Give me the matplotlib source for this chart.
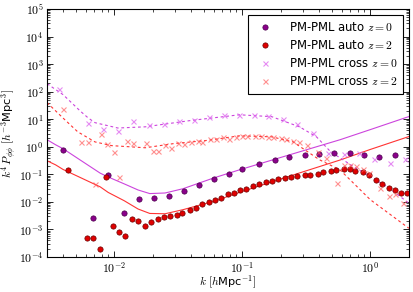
import matplotlib
matplotlib.use("Agg")
import matplotlib.pyplot as plt
from matplotlib.ticker import FuncFormatter, LogLocator
import numpy as np

plt.rcParams['mathtext.fontset'] = 'cm'
plt.rcParams['font.family'] = ['DejaVu Sans']

# auto spectra (dots)
k_auto0 = [0.0040, 0.0069, 0.0090, 0.012, 0.0157, 0.0205, 0.027, 0.035, 0.046, 0.060,
           0.079, 0.10, 0.135, 0.18, 0.23, 0.31, 0.40, 0.52, 0.69, 0.89, 1.17, 1.55]
p_auto0 = [0.78, 0.0026, 0.095, 0.004, 0.0126, 0.014, 0.017, 0.025, 0.042, 0.069,
           0.10, 0.16, 0.24, 0.34, 0.43, 0.51, 0.56, 0.60, 0.60, 0.51, 0.43, 0.51]

k_auto2 = [0.0044, 0.0062, 0.0069, 0.0078, 0.0087, 0.0098, 0.011, 0.0122, 0.0138, 0.0154,
           0.0174, 0.0194, 0.022, 0.0245, 0.0273, 0.031, 0.034, 0.039, 0.0435, 0.049,
           0.055, 0.061, 0.068, 0.077, 0.086, 0.097, 0.108, 0.122, 0.136, 0.154,
           0.172, 0.19, 0.217, 0.24, 0.27, 0.31, 0.34, 0.39, 0.43, 0.49,
           0.54, 0.62, 0.69, 0.76, 0.88, 0.98, 1.1, 1.23, 1.4, 1.55, 1.75, 1.95]
p_auto2 = [0.145, 0.0005, 0.0005, 0.0002, 0.08, 0.0013, 0.0008, 0.0006, 0.0024, 0.002,
           0.0013, 0.0019, 0.0024, 0.0028, 0.003, 0.0034, 0.0039, 0.0051, 0.006, 0.0085,
           0.010, 0.012, 0.014, 0.019, 0.021, 0.027, 0.030, 0.038, 0.045, 0.054,
           0.058, 0.069, 0.074, 0.080, 0.088, 0.096, 0.096, 0.10, 0.12, 0.13,
           0.145, 0.15, 0.16, 0.13, 0.12, 0.096, 0.063, 0.045, 0.032, 0.027, 0.021, 0.021]

# cross spectra (x markers)
k_cross0 = [0.0037, 0.0063, 0.0082, 0.0107, 0.014, 0.0187, 0.0245, 0.032, 0.042, 0.055,
            0.072, 0.094, 0.123, 0.16, 0.21, 0.27, 0.36, 0.47, 0.62, 0.81, 1.07, 1.43, 1.87]
p_cross0 = [130, 7.4, 4.5, 3.8, 8.9, 6.3, 6.9, 8.9, 9.6, 12.0,
            14.5, 14.5, 14.0, 13.5, 10.5, 7.0, 3.2, 0.6, 0.55, 0.6, 0.36, 0.26, 0.36]

k_cross2 = [0.0040, 0.0055, 0.0063, 0.0071, 0.0079, 0.0088, 0.0100, 0.011, 0.0126, 0.014,
            0.0178, 0.020, 0.022, 0.025, 0.0278, 0.0315, 0.035, 0.0397, 0.045, 0.049,
            0.056, 0.062, 0.071, 0.079, 0.089, 0.10, 0.11, 0.125, 0.14, 0.16,
            0.175, 0.20, 0.22, 0.25, 0.28, 0.32, 0.39, 0.45, 0.55, 0.62,
            0.69, 0.78, 0.88, 0.98, 1.2, 1.4, 1.55, 1.8]
p_cross2 = [24, 1.5, 1.5, 0.045, 3.0, 1.3, 0.66, 0.08, 1.65, 1.4,
            1.4, 0.71, 0.71, 1.18, 0.92, 1.4, 1.3, 1.5, 1.65, 1.5,
            1.95, 1.95, 2.3, 1.95, 2.3, 2.5, 2.5, 2.5, 2.5, 2.3,
            2.3, 2.1, 1.95, 1.65, 1.5, 1.2, 0.65, 0.4, 0.049, 0.22,
            0.22, 0.2, 0.15, 0.11, 0.032, 0.016, 0.019, 0.009]

# theory curves
k_th_auto = [0.003, 0.0035, 0.004, 0.0055, 0.0078, 0.009, 0.012, 0.0154, 0.019, 0.025,
             0.0345, 0.06, 0.095, 0.2, 0.58, 1.0, 2.0]
th_auto0 = [1.8, 1.18, 0.85, 0.32, 0.11, 0.08, 0.045, 0.027, 0.02, 0.021,
            0.03, 0.074, 0.145, 0.41, 1.8, 4.2, 12.5]
th_auto2 = [0.31, 0.22, 0.15, 0.075, 0.035, 0.022, 0.011, 0.0055, 0.0038, 0.0037,
            0.0052, 0.0105, 0.022, 0.068, 0.33, 0.8, 2.35]

k_th_cross0 = [0.003, 0.004, 0.0055, 0.0063, 0.0071, 0.0107, 0.0175, 0.039, 0.095, 0.17,
               0.28, 0.38, 0.49, 0.74, 1.36, 2.0]
th_cross0 = [195, 78, 19, 11, 7.5, 4.8, 5.3, 8.9, 14.5, 12.4,
             5.3, 2.3, 0.66, 0.19, 0.035, 0.009]
k_th_cross2 = [0.003, 0.004, 0.0052, 0.0071, 0.0096, 0.0175, 0.029, 0.053, 0.095, 0.17,
               0.25, 0.4, 0.58, 1.0, 2.0]
th_cross2 = [40, 11, 3.5, 1.5, 1.1, 0.92, 1.3, 1.7, 2.5, 2.3,
             1.5, 0.34, 0.145, 0.012, 0.0011]

c_auto0 = '#8b008b'
c_auto2 = '#e00000'
c_th0 = '#cc44dd'
c_th2 = '#ff3333'

fig = plt.figure(figsize=(4.13, 2.92), dpi=100)
ax = fig.add_axes([0.114, 0.12, 0.876, 0.849])

ax.plot(k_th_auto, th_auto0, '-', color=c_th0, lw=0.8)
ax.plot(k_th_auto, th_auto2, '-', color=c_th2, lw=0.8)
ax.plot(k_th_cross0, th_cross0, '--', color=c_th0, lw=0.8, dashes=(2.5, 2.5))
ax.plot(k_th_cross2, th_cross2, '--', color=c_th2, lw=0.8, dashes=(2.5, 2.5))

ax.plot(k_auto0, p_auto0, 'o', color=c_auto0, mec='#4a004a', mew=0.5, ms=3.8,
        label=r'PM-PML auto $z=0$')
ax.plot(k_auto2, p_auto2, 'o', color=c_auto2, mec='#6a0000', mew=0.5, ms=3.8,
        label=r'PM-PML auto $z=2$')
ax.plot(k_cross0, p_cross0, 'x', color='#dd66ee', alpha=0.75, mew=0.8, ms=3.6,
        label=r'PM-PML cross $z=0$')
ax.plot(k_cross2, p_cross2, 'x', color='#ff5555', alpha=0.65, mew=0.8, ms=3.6,
        label=r'PM-PML cross $z=2$')

ax.set_xscale('log')
ax.set_yscale('log')
ax.set_xlim(0.003, 2.0)
ax.set_ylim(1e-4, 1e5)

fmt = FuncFormatter(lambda v, pos: r'$10^{%d}$' % int(round(np.log10(v))))
ax.xaxis.set_major_formatter(fmt)
ax.yaxis.set_major_formatter(fmt)
ax.xaxis.set_minor_formatter(plt.NullFormatter())
ax.yaxis.set_major_locator(LogLocator(base=10, numticks=12))
ax.yaxis.set_minor_locator(LogLocator(base=10, subs=np.arange(2, 10), numticks=12))
ax.yaxis.set_minor_formatter(plt.NullFormatter())
ax.tick_params(which='both', direction='in', top=True, right=True, labelsize=8.5, pad=2.5)
ax.tick_params(which='major', length=4, width=0.6)
ax.tick_params(which='minor', length=2, width=0.5)

ax.set_xlabel(r'$k\ [h$Mpc$^{-1}]$', fontsize=8.2, labelpad=-1)
ax.set_ylabel(r'$k^4\,P_{\phi\phi}\ [h^{-3}$Mpc$^{3}]$', fontsize=8.2, labelpad=0)

leg = ax.legend(loc='upper right', numpoints=1, fontsize=8.4, fancybox=False,
                handlelength=2.0, handletextpad=1.0, borderpad=0.5, labelspacing=0.45,
                framealpha=1, borderaxespad=0.5)
leg.get_frame().set_edgecolor('black')
leg.get_frame().set_linewidth(0.8)

fig.savefig('out.png', dpi=100)
